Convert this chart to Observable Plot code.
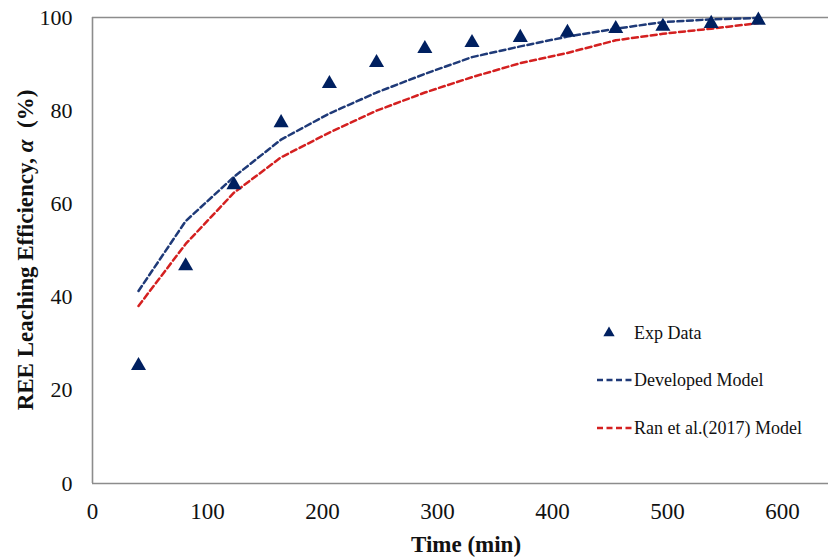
<!DOCTYPE html>
<html>
<head>
<meta charset="utf-8">
<script src="https://cdn.jsdelivr.net/npm/d3@7"></script>
<script src="https://cdn.jsdelivr.net/npm/@observablehq/plot@0.6"></script>
<style>
  html, body { margin: 0; padding: 0; background: #fff; }
  #chart { position: relative; width: 830px; height: 560px; }
</style>
</head>
<body>
<div id="chart"></div>
<script>
const time = [40, 81, 123, 164, 206, 247, 289, 330, 372, 413, 455, 496, 538, 579];
const expData = [25.3, 46.7, 64.1, 77.4, 85.8, 90.3, 93.3, 94.6, 95.7, 96.8, 97.6, 98.1, 98.7, 99.4];
const developed = [41.3, 56.3, 65.8, 73.8, 79.4, 83.9, 87.9, 91.5, 93.8, 95.9, 97.6, 99.0, 99.6, 99.9];
const ran = [38.1, 51.4, 62.4, 70.0, 75.3, 80.0, 83.9, 87.2, 90.2, 92.4, 95.1, 96.5, 97.6, 98.8];
const xTicks = [0, 100, 200, 300, 400, 500, 600];
const yTicks = [0, 20, 40, 60, 80, 100];
const legendLabels = ["Exp Data", "Developed Model", "Ran et al.(2017) Model"];

const expRows = time.map((t, i) => ({t, v: expData[i]}));
const devRows = time.map((t, i) => ({t, v: developed[i]}));
const ranRows = time.map((t, i) => ({t, v: ran[i]}));

const navy = "#002060";
const blue = "#1F3A78";
const red = "#D42020";
const frameColor = "#8c8c8c";
const font = "'Liberation Serif', 'Times New Roman', serif";
const dash = "6,3.5";

const plot = Plot.plot({
  width: 830,
  height: 560,
  marginLeft: 92,
  marginRight: 2,
  marginTop: 17,
  marginBottom: 77,
  style: {fontFamily: font, background: "#fff", overflow: "visible"},
  x: {domain: [0, 640]},
  y: {domain: [0, 100]},
  marks: [
    Plot.ruleY([0, 100], {stroke: frameColor, strokeWidth: 1.6}),
    Plot.ruleX([0], {stroke: frameColor, strokeWidth: 1.6}),
    Plot.axisX({ticks: xTicks, tickSize: 0, tickPadding: 19, fontSize: 23, label: null, color: "#111"}),
    Plot.axisY({ticks: yTicks, tickSize: 0, tickPadding: 20, fontSize: 22, label: null, color: "#111"}),
    Plot.line(devRows, {x: "t", y: "v", stroke: blue, strokeWidth: 2.5, strokeDasharray: dash}),
    Plot.line(ranRows, {x: "t", y: "v", stroke: red, strokeWidth: 2.5, strokeDasharray: dash}),
    Plot.dot(expRows, {x: "t", y: "v", symbol: "triangle", r: 5.6, fill: navy, stroke: "none"})
  ]
});

const svg = d3.select(plot);

// Axis titles
svg.append("text")
  .attr("x", 466).attr("y", 552)
  .attr("text-anchor", "middle")
  .attr("font-family", font).attr("font-weight", "bold").attr("font-size", 23)
  .attr("fill", "#111")
  .text("Time (min)");

const yl = svg.append("text")
  .attr("transform", "translate(33,250) rotate(-90)")
  .attr("text-anchor", "middle")
  .attr("font-family", font).attr("font-weight", "bold").attr("font-size", 23)
  .attr("fill", "#111");
yl.append("tspan").text("REE Leaching Efficiency, ");
yl.append("tspan").attr("font-style", "italic").text("α");
yl.append("tspan").text("\u00a0 (%)");

// Legend
const lg = svg.append("g")
  .attr("font-family", font).attr("font-size", 18).attr("fill", "#111")
  .attr("text-anchor", "start");
lg.append("path")
  .attr("d", d3.symbol(d3.symbolTriangle, Math.PI * 4.2 * 4.2)())
  .attr("transform", "translate(609,333)")
  .attr("fill", navy);
lg.append("text").attr("x", 634).attr("y", 339).text(legendLabels[0]);
lg.append("line").attr("x1", 597).attr("x2", 633).attr("y1", 380).attr("y2", 380)
  .attr("stroke", blue).attr("stroke-width", 2.5).attr("stroke-dasharray", dash);
lg.append("text").attr("x", 634).attr("y", 386).text(legendLabels[1]);
lg.append("line").attr("x1", 597).attr("x2", 633).attr("y1", 428).attr("y2", 428)
  .attr("stroke", red).attr("stroke-width", 2.5).attr("stroke-dasharray", dash);
lg.append("text").attr("x", 634).attr("y", 434).text(legendLabels[2]);

document.getElementById("chart").appendChild(plot);
</script>
</body>
</html>
